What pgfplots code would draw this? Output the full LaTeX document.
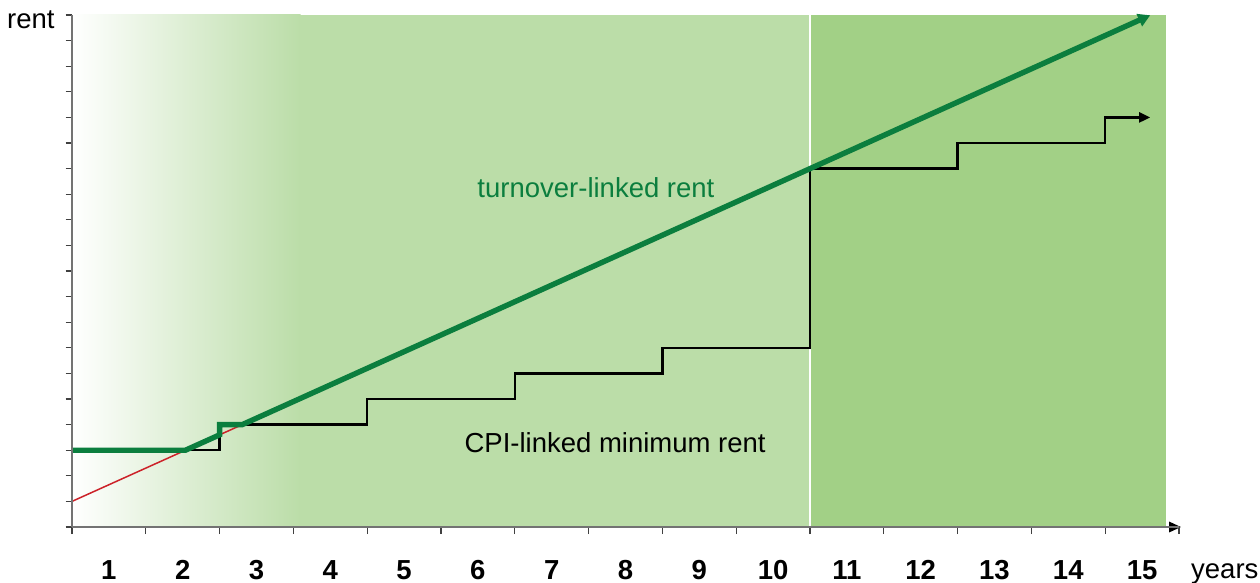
\documentclass[border=0pt]{standalone}
\usepackage{fontspec}
\setmainfont{Liberation Sans}
\usepackage{pgfplots}
\pgfplotsset{compat=1.18}
\usetikzlibrary{arrows.meta}
\definecolor{lgreen}{HTML}{BBDDA8}
\definecolor{dgreen}{HTML}{A2D086}
\definecolor{lineg}{HTML}{0B7E3E}
\definecolor{redl}{HTML}{CC2229}
\newcommand{\lbl}{\fontsize{13.75}{16}\selectfont}
\begin{document}
\begin{tikzpicture}
\begin{axis}[
 scale only axis, width=553.5pt, height=256pt,
 xmin=0, xmax=15, ymin=0, ymax=20,
 axis x line*=bottom, axis y line*=left,
 axis line style={draw=black!55, line width=0.6pt},
 xtick={0.5,1.5,2.5,3.5,4.5,5.5,6.5,7.5,8.5,9.5,10.5,11.5,12.5,13.5,14.5},
 xticklabels={\textbf{1},\textbf{2},\textbf{3},\textbf{4},\textbf{5},\textbf{6},\textbf{7},\textbf{8},\textbf{9},\textbf{10},\textbf{11},\textbf{12},\textbf{13},\textbf{14},\textbf{15}},
 minor xtick={0,1,...,15},
 ytick={0,1,...,20},
 yticklabels={},
 major tick length=3.2pt, minor tick length=3.5pt,
 tick align=outside,
 major x tick style={draw=none},
 major y tick style={black!75, line width=0.6pt},
 minor tick style={black!75, line width=0.6pt},
 xticklabel style={font=\lbl, anchor=base, yshift=-22.8pt},
 clip=false,
 axis on top=true,
]
\coordinate (BL) at (rel axis cs:-0.0650,-0.1074);
\coordinate (TR) at (rel axis cs:1.0732,1.0293);
% background areas
\addplot[draw=none, left color=white, right color=lgreen] coordinates {(0,20) (3.1,20)} \closedcycle;
\addplot[draw=none, fill=lgreen] coordinates {(3.08,20) (10,20)} \closedcycle;
\addplot[draw=none, fill=dgreen] coordinates {(10,20) (14.82,20)} \closedcycle;
\addplot[white, line width=1pt] coordinates {(10,0) (10,20)};
% red line
\addplot[redl, line width=0.75pt] coordinates {(0,1) (2.4,4.12)};
% CPI-linked minimum rent
\addplot[black, line width=1.2pt, -{Triangle[length=5.5pt,width=5pt]}] coordinates {
 (0,3) (2,3) (2,4) (4,4) (4,5) (6,5) (6,6) (8,6) (8,7) (10,7) (10,14) (12,14) (12,15) (14,15) (14,16) (14.61,16)};
% turnover-linked rent
\addplot[lineg, line width=2.7pt, -{Triangle[length=6pt,width=6.5pt]}] coordinates {
 (0,3) (1.538,3) (2,3.6) (2,4) (2.308,4) (14.61,19.99)};
% thick axis part
\addplot[black, line width=1.4pt, -{Triangle[length=6pt,width=5pt]}] coordinates {(10,0) (15.03,0)};
\node[lineg, font=\lbl] at (axis cs:7.10,13.24) {turnover-linked rent};
\node[black, font=\lbl] at (axis cs:7.36,3.28) {CPI-linked minimum rent};
\node[black, font=\lbl, anchor=base east, inner sep=0pt] at (axis cs:-0.23,19.49) {rent};
\node[black, font=\lbl, anchor=base west, inner sep=0pt] at (axis cs:15.16,-2.03) {years};
\end{axis}
\pgfresetboundingbox
\path[use as bounding box] (BL) rectangle (TR);
\end{tikzpicture}
\end{document}
